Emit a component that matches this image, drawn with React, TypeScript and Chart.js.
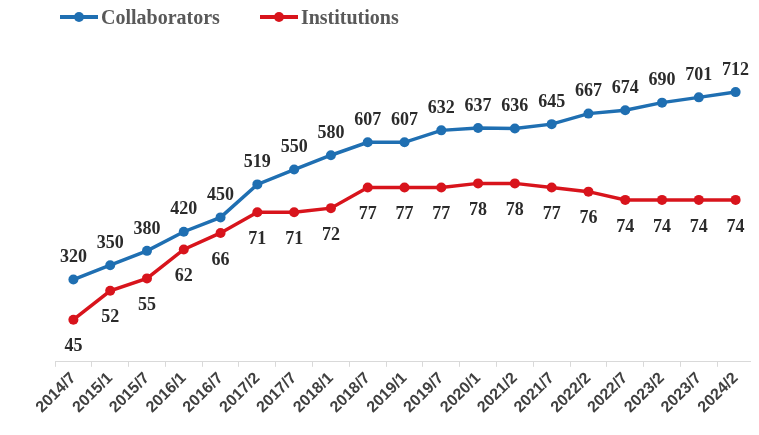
import React, { useEffect, useRef } from "react";
import { Chart, registerables } from "chart.js";

Chart.register(...registerables);

const categories = [
  "2014/7", "2015/1", "2015/7", "2016/1", "2016/7", "2017/2", "2017/7", "2018/1",
  "2018/7", "2019/1", "2019/7", "2020/1", "2021/2", "2021/7", "2022/2", "2022/7",
  "2023/2", "2023/7", "2024/2",
];
const collaborators = [320, 350, 380, 420, 450, 519, 550, 580, 607, 607, 632, 637, 636, 645, 667, 674, 690, 701, 712];
const institutions = [45, 52, 55, 62, 66, 71, 71, 72, 77, 77, 77, 78, 78, 77, 76, 74, 74, 74, 74];
const seriesNames = ["Collaborators", "Institutions"];
const seriesColors = ["#1f6fb2", "#d8141c"];

const valueLabels = {
  id: "valueLabels",
  afterDatasetsDraw(chart: any) {
    const ctx = chart.ctx;
    ctx.save();
    ctx.font = "bold 18px 'Liberation Serif', 'Times New Roman', serif";
    ctx.fillStyle = "#2b2b2b";
    ctx.textAlign = "center";
    ctx.textBaseline = "middle";
    chart.data.datasets.forEach((ds: any, i: number) => {
      const meta = chart.getDatasetMeta(i);
      const above = i === 0;
      meta.data.forEach((pt: any, j: number) => {
        ctx.fillText(String(ds.data[j]), pt.x, above ? pt.y - 22 : pt.y + 27);
      });
    });
    ctx.restore();
  },
};

export default function App() {
  const ref = useRef<HTMLCanvasElement>(null);

  useEffect(() => {
    if (!ref.current) return;
    const chart = new Chart(ref.current, {
      type: "line",
      data: {
        labels: categories,
        datasets: [
          {
            label: seriesNames[0],
            data: collaborators,
            borderColor: seriesColors[0],
            backgroundColor: seriesColors[0],
            borderWidth: 3.5,
            pointRadius: 5,
            pointBorderWidth: 0,
            yAxisID: "y",
            tension: 0,
          },
          {
            label: seriesNames[1],
            data: institutions,
            borderColor: seriesColors[1],
            backgroundColor: seriesColors[1],
            borderWidth: 3.5,
            pointRadius: 5,
            pointBorderWidth: 0,
            yAxisID: "y1",
            tension: 0,
          },
        ],
      },
      options: {
        responsive: false,
        animation: false,
        layout: { padding: { left: 55, top: 37, right: 0, bottom: 8 } },
        plugins: {
          legend: { display: false },
          tooltip: { enabled: false },
        },
        scales: {
          x: {
            type: "category",
            offset: true,
            grid: { offset: true, drawOnChartArea: false, tickLength: 5, color: "#d9d9d9" },
            border: { color: "#d9d9d9" },
            ticks: {
              minRotation: 45,
              maxRotation: 45,
              autoSkip: false,
              padding: 2,
              color: "#404040",
              font: { family: "'Liberation Sans', Arial, sans-serif", weight: "bold", size: 16 },
            },
          },
          y: { display: false, min: 148, max: 810.5 },
          y1: { display: false, min: 34.8, max: 111.5 },
        },
      },
      plugins: [valueLabels],
    });
    return () => chart.destroy();
  }, []);

  const legendItem = (name: string, color: string, ml: number) => (
    <div style={{ display: "flex", alignItems: "center", marginLeft: ml }}>
      <span style={{ position: "relative", display: "inline-block", width: 38, height: 4, background: color }}>
        <span
          style={{
            position: "absolute",
            left: 14,
            top: -3,
            width: 10,
            height: 10,
            borderRadius: 5,
            background: color,
          }}
        />
      </span>
      <span style={{ marginLeft: 3 }}>{name}</span>
    </div>
  );

  return (
    <div style={{ position: "relative", width: 759, height: 419, marginLeft: -8 }}>
      <canvas ref={ref} width={759} height={419} style={{ display: "block" }} />
      <div
        style={{
          position: "absolute",
          top: -3,
          left: 60,
          display: "flex",
          alignItems: "center",
          fontFamily: "'Liberation Serif', 'Times New Roman', serif",
          fontWeight: "bold",
          fontSize: 20,
          lineHeight: "24px",
          color: "#595959",
        }}
      >
        {legendItem(seriesNames[0], seriesColors[0], 0)}
        {legendItem(seriesNames[1], seriesColors[1], 40)}
      </div>
    </div>
  );
}
